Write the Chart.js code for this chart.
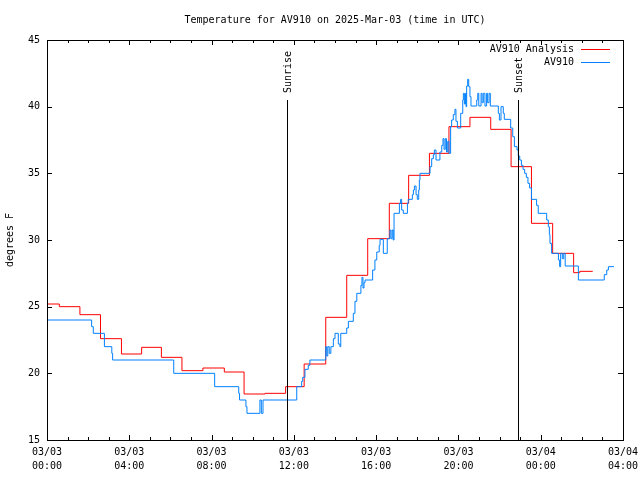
<!DOCTYPE html>
<html>
<head>
<meta charset="utf-8">
<script src="https://cdn.jsdelivr.net/npm/chart.js@4"></script>
<style>body{margin:0;background:#fff}</style>
</head>
<body>
<canvas id="grafico" width="640" height="480"></canvas>
<script>
// hours since 03/03 00:00 UTC
const analysisHours = [0, 0.6, 1.6, 2.6, 3.62, 4.6, 5.56, 6.56, 7.58, 8.62, 9.58, 10.6, 11.6, 12.5, 13.55, 14.57,
  15.59, 16.64, 17.58, 18.59, 19.54, 20.56, 21.57, 22.56, 23.55, 24.58, 25.6, 25.9, 26.53];
const analysisTemps = [25.2, 25.0, 24.4, 22.6, 21.45, 21.95, 21.2, 20.2, 20.4, 20.1, 18.45, 18.5, 19.0, 20.7, 24.2, 27.35,
  30.1, 32.75, 34.85, 36.5, 38.5, 39.2, 38.3, 35.5, 31.25, 29.0, 27.55, 27.65, 27.65];

const obsHours = [0, 2.17, 2.25, 2.79, 3.15, 3.19, 6.16, 8.15, 9.32, 9.36, 9.67, 9.72, 10.35, 10.42, 10.5, 12.14,
  12.38, 12.43, 12.54, 12.7, 12.78, 13.55, 13.6, 13.65, 13.72, 13.8, 13.92, 14.0, 14.16, 14.24, 14.28, 14.57,
  14.65, 14.89, 14.97, 15.06, 15.26, 15.31, 15.36, 15.41, 15.46, 15.83, 15.94, 16.03, 16.15, 16.19, 16.35, 16.54,
  16.67, 16.72, 16.78, 16.83, 16.87, 17.13, 17.19, 17.24, 17.32, 17.52, 17.56, 17.76, 17.81, 17.86, 17.94, 18.0,
  18.07, 18.1, 18.13, 18.62, 18.7, 18.78, 18.83, 18.91, 19.1, 19.19, 19.25, 19.3, 19.36, 19.42, 19.48, 19.54,
  19.62, 19.67, 19.75, 19.83, 19.88, 19.95, 20.11, 20.21, 20.24, 20.29, 20.34, 20.37, 20.4, 20.45, 20.5, 20.56,
  20.61, 20.89, 20.94, 20.99, 21.1, 21.15, 21.21, 21.29, 21.37, 21.42, 21.49, 21.55, 21.94, 21.99, 22.07, 22.18,
  22.23, 22.54, 22.64, 22.72, 22.85, 22.91, 22.98, 23.06, 23.14, 23.22, 23.3, 23.38, 23.46, 23.55, 23.8, 23.88,
  24.29, 24.37, 24.42, 24.45, 24.53, 24.86, 24.92, 24.97, 25.05, 25.12, 25.19, 25.83, 27.09, 27.21, 27.29, 27.56];
const obsTemps = [24.0, 23.5, 23.0, 22.0, 21.5, 21.0, 20.0, 19.0, 18.5, 18.0, 17.5, 17.0, 18.0, 17.0, 18.0, 19.0,
  19.4, 19.7, 20.3, 20.6, 21.0, 22.0, 21.3, 22.0, 21.5, 22.0, 22.6, 23.0, 22.2, 22.0, 23.0, 23.4,
  23.9, 24.5, 25.4, 26.0, 26.6, 27.2, 26.4, 26.8, 27.0, 27.75, 28.5, 29.1, 29.6, 30.05, 29.0, 30.1,
  30.75, 30.1, 30.75, 30.0, 32.0, 32.75, 33.05, 32.25, 32.0, 32.75, 33.05, 33.4, 33.75, 34.05, 33.4, 33.05,
  33.75, 34.5, 35.0, 35.5, 36.1, 36.4, 36.75, 36.0, 36.6, 37.1, 37.6, 36.8, 37.6, 36.6, 37.4, 36.5,
  38.5, 39.0, 39.4, 39.8, 38.9, 38.4, 39.5, 40.5, 41.0, 40.2, 41.0, 40.0, 41.55, 42.05, 41.5, 40.75,
  40.05, 40.5, 41.0, 40.05, 41.0, 40.3, 41.0, 40.05, 41.0, 40.3, 41.0, 40.05, 39.5, 39.0, 40.0, 39.5,
  39.05, 38.4, 37.75, 37.0, 36.75, 36.3, 36.0, 35.6, 35.3, 35.0, 34.7, 34.25, 33.9, 33.05, 32.6, 32.0,
  31.5, 31.0, 30.4, 29.75, 29.0, 28.5, 28.0, 29.0, 28.6, 29.0, 28.05, 27.0, 27.4, 27.75, 28.0, 28.0];

const tickDays = ['03/03', '03/03', '03/03', '03/03', '03/03', '03/03', '03/04', '03/04'];
const tickTimes = ['00:00', '04:00', '08:00', '12:00', '16:00', '20:00', '00:00', '04:00'];

const sunEvents = ['Sunrise', 'Sunset'];
const sunHours = [11.67, 22.91];

const titulo = 'Temperature for AV910 on 2025-Mar-03 (time in UTC)';
const mono = "'DejaVu Sans Mono', monospace";

function pares(xs, ys) {
  return xs.map((h, i) => ({ x: h, y: ys[i] }));
}

const series = [
  { label: 'AV910 Analysis', color: '#ff0000' },
  { label: 'AV910', color: '#0080ff' }
];

// moldura, ticks para dentro, nascer/por do sol e legenda no estilo gnuplot
const extras = {
  id: 'extras',
  afterDraw(chart) {
    const { ctx, chartArea: a, scales: { x, y } } = chart;
    ctx.save();
    ctx.strokeStyle = '#000';
    ctx.lineWidth = 1;
    ctx.strokeRect(a.left + 0.5, a.top + 0.5, a.right - a.left, a.bottom - a.top);

    ctx.beginPath();
    x.ticks.forEach(t => {
      const px = Math.round(x.getPixelForValue(t.value)) + 0.5;
      const len = t.value % 4 === 0 ? 5 : 3;
      ctx.moveTo(px, a.bottom); ctx.lineTo(px, a.bottom - len);
      ctx.moveTo(px, a.top); ctx.lineTo(px, a.top + len);
    });
    y.ticks.forEach(t => {
      const py = Math.round(y.getPixelForValue(t.value)) + 0.5;
      ctx.moveTo(a.left, py); ctx.lineTo(a.left + 5, py);
      ctx.moveTo(a.right, py); ctx.lineTo(a.right - 5, py);
    });
    ctx.stroke();

    // linhas verticais do sol
    ctx.font = '10px ' + mono;
    ctx.fillStyle = '#000';
    const topo = a.bottom - 0.85 * (a.bottom - a.top);
    sunHours.forEach((h, i) => {
      const px = Math.round(x.getPixelForValue(h)) + 0.5;
      ctx.beginPath();
      ctx.moveTo(px, topo); ctx.lineTo(px, a.bottom);
      ctx.stroke();
      ctx.save();
      ctx.translate(px + 1, topo - 7);
      ctx.rotate(-Math.PI / 2);
      ctx.textAlign = 'left';
      ctx.textBaseline = 'middle';
      ctx.fillText(sunEvents[i], 0, 0);
      ctx.restore();
    });

    // legenda
    ctx.textAlign = 'right';
    ctx.textBaseline = 'middle';
    series.forEach((s, i) => {
      const ly = a.top + 9 + i * 13;
      ctx.fillStyle = '#000';
      ctx.fillText(s.label, a.right - 49, ly);
      ctx.strokeStyle = s.color;
      ctx.beginPath();
      ctx.moveTo(a.right - 42, ly + 0.5);
      ctx.lineTo(a.right - 13, ly + 0.5);
      ctx.stroke();
    });

    // titulo centrado na area do grafico
    ctx.fillStyle = '#000';
    ctx.textAlign = 'center';
    ctx.fillText(titulo, (a.left + a.right) / 2, 20);
    ctx.restore();
  }
};

new Chart(document.getElementById('grafico'), {
  type: 'line',
  data: {
    datasets: [
      {
        label: series[0].label,
        data: pares(analysisHours, analysisTemps),
        borderColor: series[0].color,
        borderWidth: 1,
        stepped: 'before',
        pointRadius: 0,
        order: 1
      },
      {
        label: series[1].label,
        data: pares(obsHours, obsTemps),
        borderColor: series[1].color,
        borderWidth: 1,
        stepped: 'before',
        pointRadius: 0,
        order: 0
      }
    ]
  },
  options: {
    responsive: false,
    animation: false,
    layout: { padding: { top: 40, right: 17, left: 0, bottom: 0 } },
    plugins: {
      legend: { display: false },
      tooltip: { enabled: false }
    },
    scales: {
      x: {
        type: 'linear',
        min: 0,
        max: 28,
        afterFit: s => { s.height = 40; s.paddingLeft = 0; s.paddingRight = 0; },
        grid: { display: false, drawTicks: false },
        border: { display: false },
        ticks: {
          stepSize: 1,
          autoSkip: false,
          maxRotation: 0,
          padding: 5,
          color: '#000',
          font: { family: mono, size: 10, lineHeight: '14px' },
          callback: function (value) {
            if (value % 4 !== 0) return '';
            const i = value / 4;
            return [tickDays[i], tickTimes[i]];
          }
        }
      },
      y: {
        min: 15,
        max: 45,
        afterFit: s => { s.width = 47; s.paddingTop = 0; s.paddingBottom = 0; },
        grid: { display: false, drawTicks: false },
        border: { display: false },
        title: {
          display: true,
          text: 'degrees F',
          color: '#000',
          padding: { top: 4, bottom: 0 },
          font: { family: mono, size: 10 }
        },
        ticks: {
          stepSize: 5,
          padding: 7,
          color: '#000',
          font: { family: mono, size: 10 }
        }
      }
    }
  },
  plugins: [extras]
});
</script>
</body>
</html>
